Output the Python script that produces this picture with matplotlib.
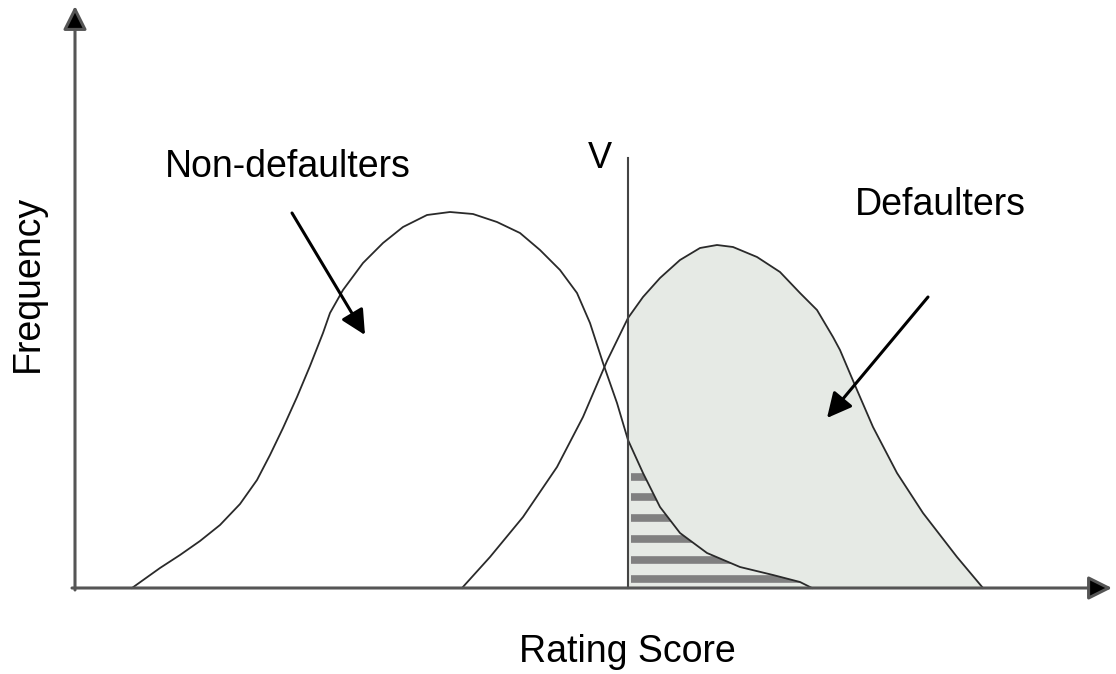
"""
Score distributions of non-defaulters and defaulters with a cut-off V.
"""

import numpy as np
import matplotlib.pyplot as plt
from matplotlib.patches import Polygon, Rectangle

plt.rcParams['font.family'] = ['Liberation Sans', 'DejaVu Sans']

# curve points (rating score, frequency)
nondef_x = [57, 85, 105, 125, 145, 165, 182, 195, 208, 222, 235, 248, 255,
            268, 288, 308, 328, 352, 375, 398, 422, 445, 465, 485, 502, 515,
            528, 542, 553, 568, 585, 605, 632, 665, 698, 725, 737]
nondef_y = [0, 20, 33, 47, 63, 84, 108, 133, 160, 191, 222, 255, 275,
            298, 325, 345, 361, 373, 376, 374, 366, 355, 338, 318, 295, 265,
            225, 185, 148, 115, 81, 55, 35, 21, 13, 6, 0]

def_x = [387, 415, 448, 482, 508, 532, 553, 568, 585, 605, 625, 642, 658,
         682, 705, 725, 742, 758, 765, 782, 798, 822, 848, 882, 908]
def_y = [0, 31, 71, 121, 171, 227, 270, 291, 310, 328, 340, 343, 341,
         331, 316, 295, 278, 251, 238, 198, 161, 115, 75, 31, 0]

cutoff = 553
cutoff_top = 430
hatch_levels = [9, 28, 49, 70, 91, 111]

line_col = '#2a2a2a'
fill_col = '#e6eae5'

fig = plt.figure(figsize=(11.16, 6.74), dpi=100)
ax = fig.add_axes([0, 0, 1, 1])
ax.set_xlim(-75, 1041)
ax.set_ylim(-86, 588)
ax.set_axis_off()

# shaded defaulters area right of the cut-off
fill = ax.fill(def_x, def_y, color=fill_col, lw=0, zorder=1)[0]
clip_rect = Rectangle((cutoff, -10), 1000, 700, transform=ax.transData)
fill.set_clip_path(clip_rect)

# horizontal hatching: non-defaulters right of the cut-off
nondef_poly = Polygon(np.column_stack([nondef_x, nondef_y]), closed=True,
                      transform=ax.transData)
bars = ax.hlines(hatch_levels, cutoff + 3, 1000, colors='#808080', lw=5.5,
                 zorder=2)
bars.set_clip_path(nondef_poly)

ax.plot(nondef_x, nondef_y, color=line_col, lw=1.3, zorder=3,
        solid_joinstyle='round')
ax.plot(def_x, def_y, color=line_col, lw=1.3, zorder=3,
        solid_joinstyle='round')

# cut-off line
ax.plot([cutoff, cutoff], [0, cutoff_top], color='#444444', lw=1.5, zorder=3)
ax.text(525, 430, 'V', fontsize=26, ha='center', va='center')

# axes with arrow heads
axis_arrow = dict(arrowstyle='-|>,head_length=0.4,head_width=0.2',
                  mutation_scale=36, lw=2.2, ec='#555555', fc='black',
                  shrinkA=0, shrinkB=0)
ax.annotate('', xy=(1037, 0), xytext=(-3, 0), arrowprops=axis_arrow)
ax.annotate('', xy=(0, 582), xytext=(0, -2), arrowprops=axis_arrow)

# label arrows
lab_arrow = dict(arrowstyle='-|>,head_length=0.5,head_width=0.25',
                 mutation_scale=30, lw=2.2, color='black',
                 shrinkA=0, shrinkB=0)
ax.annotate('', xy=(290, 253), xytext=(217, 375), arrowprops=lab_arrow)
ax.annotate('', xy=(752, 170), xytext=(853, 291), arrowprops=lab_arrow)

ax.text(90, 421, 'Non-defaulters', fontsize=27, ha='left', va='center')
ax.text(780, 383, 'Defaulters', fontsize=27, ha='left', va='center')
ax.text(552, -64, 'Rating Score', fontsize=27, ha='center', va='center')
ax.text(-47, 305, 'Frequency', fontsize=27, ha='center', va='center',
        rotation=90)

fig.savefig('out.png', dpi=100)
